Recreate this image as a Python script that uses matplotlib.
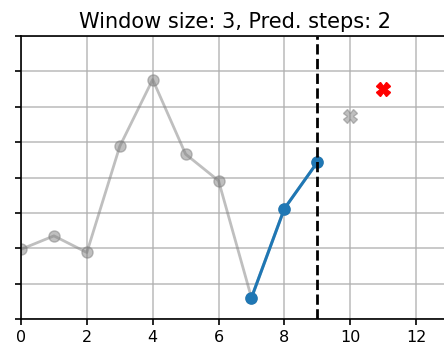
import numpy as np
import matplotlib.pyplot as plt

# serie historica (gris) y ventana de entrada (azul)
hist_x = [0, 1, 2, 3, 4, 5, 6, 7, 8, 9]
hist_y = [1.97, 2.35, 1.88, 4.88, 6.77, 4.66, 3.91, 0.60, 3.12, 4.43]
win_x = [7, 8, 9]
win_y = [0.60, 3.12, 4.43]
true_x = [10]
true_y = [5.75]
pred_x = [11]
pred_y = [6.49]

fig = plt.figure(figsize=(4.44, 3.48), dpi=100)
ax = fig.add_axes([21/444, 29/348, 428/444, 283/348])

ax.plot(hist_x, hist_y, 'o-', color='gray', alpha=0.5, lw=2, ms=8)
ax.plot(win_x, win_y, 'o-', color='C0', lw=2.2, ms=8)
ax.plot(true_x, true_y, 'X', color='gray', alpha=0.5, ms=10)
ax.plot(pred_x, pred_y, 'X', color='red', ms=10)
ax.axvline(9, color='k', ls='--', lw=2)

ax.set_xlim(0, 13)
ax.set_ylim(0, 8)
ax.set_xticks([0, 2, 4, 6, 8, 10, 12])
ax.set_yticks(np.arange(0, 9))
ax.set_yticklabels([])
ax.tick_params(labelsize=11.5, width=1.2, length=4.5)
for s in ax.spines.values():
    s.set_linewidth(1.2)
ax.grid(True, lw=1.2, alpha=0.8)
ax.set_title('Window size: 3, Pred. steps: 2', fontsize=15)
fig.savefig('out.png')
